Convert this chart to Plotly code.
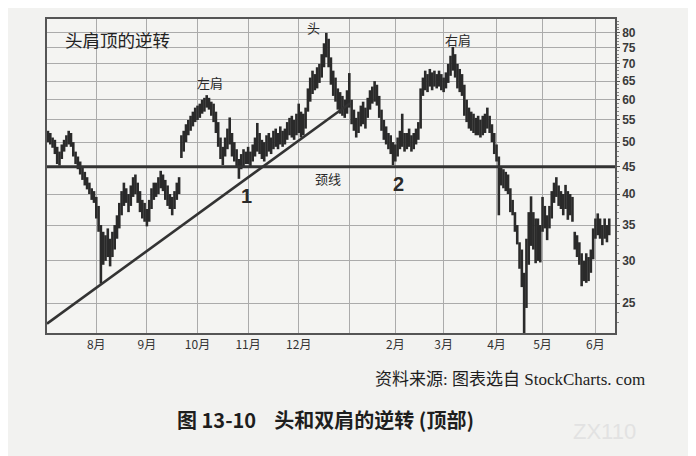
import plotly.graph_objects as go

# Daily bar ranges (high / low)
highs = [
    52.5, 52.0, 51.0, 50.5, 49.0, 48.0, 49.5, 50.5, 51.5, 52.5, 52.0,
    50.0, 48.0, 47.0, 46.0, 45.0, 44.0, 43.0, 42.0, 41.0, 40.5, 39.5, 38.0,
    35.0, 34.0, 33.5, 34.5, 33.0, 34.0, 35.0, 36.5, 38.5, 40.5, 42.0,
    41.0, 40.0, 41.5, 43.0, 43.5, 42.0, 40.5, 39.0, 38.5, 37.5, 39.0,
    41.0, 42.0, 42.0, 43.0, 44.2, 43.5, 42.5, 41.5, 40.0, 39.5, 40.5, 42.0, 43.0,
    51.5, 52.5, 54.0, 55.0, 56.0, 57.0, 58.0, 58.5, 59.0, 60.0, 60.5, 61.2,
    60.5, 59.5, 59.0, 57.0, 54.5, 51.0, 49.0, 51.0, 53.0, 55.6, 52.0, 50.0, 48.5,
    46.5, 47.5, 48.5, 48.0, 49.0, 48.0, 49.5, 51.0, 54.3, 52.0, 50.5, 50.0,
    51.5, 52.0, 51.0, 52.5, 53.0, 52.0, 53.5, 52.5, 53.0, 54.5, 55.5, 56.0, 55.0, 56.5,
    59.0, 57.0, 56.5, 58.0, 63.0, 66.0, 68.0, 67.0, 69.0, 70.0, 73.0, 76.5, 80.0, 78.0, 72.0, 68.0, 66.0, 63.0, 62.0,
    61.0, 60.0, 62.5, 67.3, 60.0, 57.5, 55.5, 57.0, 58.5, 59.5, 58.0, 60.5, 62.5, 63.5, 65.0, 64.0, 61.0, 57.5, 55.0, 53.5, 52.0, 51.5, 50.0,
    49.5, 51.0, 52.5, 56.5, 52.0, 52.0, 53.0, 51.5, 52.0, 53.0, 54.5,
    63.0, 66.0, 68.0, 67.0, 68.5, 67.5, 68.0, 67.0, 68.0, 67.0, 66.0, 67.5, 70.0, 72.5, 75.3,
    73.0, 70.0, 68.5, 67.0, 64.0, 60.0, 58.0, 57.0, 56.5, 55.5, 56.0, 55.0, 56.0, 56.5, 58.0, 56.0, 54.0, 52.0, 49.5,
    47.0, 45.0, 44.5, 44.0, 43.5, 41.0, 39.0, 37.0, 35.0, 32.5, 31.5, 28.5, 33.0, 37.0, 39.6, 37.0, 36.0, 36.0, 35.0,
    39.5, 38.0, 36.5, 38.0, 40.5, 42.0, 43.0, 41.5, 40.5, 40.0, 41.6, 40.5, 40.0, 39.5,
    34.0, 33.5, 32.5, 31.0, 30.0, 31.0, 30.5, 31.5, 34.5, 36.0, 36.8, 36.0, 35.0, 36.0, 35.0, 36.0,
]
lows = [
    50.0, 49.5, 48.8, 47.5, 45.5, 45.2, 46.5, 48.0, 49.0, 49.5, 49.0,
    47.0, 45.5, 44.5, 43.5, 42.5, 41.5, 40.8, 40.0, 39.0, 38.5, 36.0, 34.0,
    27.2, 29.5, 30.0, 30.5, 29.3, 30.5, 31.5, 33.0, 34.5, 36.5, 38.0,
    38.5, 37.0, 38.0, 39.5, 40.0, 38.5, 37.0, 36.0, 35.5, 34.8, 35.5,
    37.5, 39.0, 39.5, 40.0, 41.0, 40.5, 39.0, 38.0, 37.5, 36.5, 37.5, 39.0, 40.0,
    46.7, 48.0, 50.0, 51.5, 52.5, 53.5, 54.5, 55.0, 55.5, 56.5, 57.0, 58.0,
    57.5, 56.0, 54.5, 52.0, 49.0, 46.5, 45.3, 47.0, 48.5, 49.5, 47.0, 46.0, 45.0,
    42.7, 44.5, 45.0, 45.5, 45.5, 45.0, 46.0, 47.0, 48.0, 47.5, 46.5, 46.0,
    47.0, 48.0, 47.5, 48.5, 49.0, 48.5, 49.5, 49.0, 49.5, 50.5, 51.5, 51.0, 50.5, 51.5,
    52.0, 51.0, 51.5, 53.0, 57.0, 59.5, 61.5, 62.5, 63.0, 64.5, 66.0, 69.0, 72.0, 69.0, 64.0, 61.0, 59.5, 57.5, 56.5,
    56.0, 55.5, 56.5, 58.0, 54.0, 52.5, 51.0, 52.0, 53.5, 54.0, 53.0, 55.5, 57.5, 59.0, 59.5, 58.5, 55.5, 52.5, 50.5, 49.5, 48.5, 47.5, 45.3,
    46.0, 47.0, 48.5, 49.0, 48.0, 48.5, 49.0, 48.0, 48.5, 49.5, 50.5,
    53.0, 61.0, 62.5, 62.0, 63.5, 62.5, 63.5, 63.0, 63.5, 62.5, 62.0, 63.0, 64.5, 66.5, 68.0,
    66.0, 63.0, 62.0, 61.0, 56.0, 54.5, 53.0, 52.5, 52.0, 51.5, 51.5, 51.0, 51.5, 52.0, 53.0, 52.0, 50.0, 47.5, 46.0,
    36.5, 41.5, 41.0, 40.5, 40.0, 37.0, 36.5, 34.0, 32.2, 29.0, 26.8, 22.0, 24.5, 29.5, 32.0, 31.5, 29.7, 30.0, 29.8,
    34.0, 34.5, 32.8, 34.5, 36.0, 38.5, 39.5, 38.0, 37.5, 36.5, 37.5, 35.8, 36.5, 35.5,
    31.5, 30.5, 29.5, 26.9, 27.5, 27.3, 27.5, 28.5, 30.2, 33.0, 33.5, 33.0, 32.1, 33.0, 32.5, 33.5,
]
days = list(range(len(highs)))

month_days = [21, 43, 65, 87, 109, 131, 151, 172, 195, 215, 238]
month_labels = ["8月", "9月", "10月", "11月", "12月", "", "2月", "3月", "4月", "5月", "6月"]
price_ticks = [25, 30, 35, 40, 45, 50, 55, 60, 65, 70, 75, 80]
neckline_price = 45
trend_days = [-0.43, 131.3]
trend_prices = [22.9, 59.1]

x_range = [-0.43, 246.5]
y_range = [1.3424, 1.929]

# Build vertical segments for the bars
seg_x, seg_y = [], []
for d, h, l in zip(days, highs, lows):
    seg_x += [d, d, None]
    seg_y += [l, h, None]

fig = go.Figure()
fig.add_trace(go.Scatter(x=seg_x, y=seg_y, mode="lines",
                         line=dict(color="#2a2a2a", width=2.6),
                         hoverinfo="skip", showlegend=False))
fig.add_trace(go.Scatter(x=x_range, y=[neckline_price, neckline_price], mode="lines",
                         line=dict(color="#333333", width=3),
                         hoverinfo="skip", showlegend=False))
fig.add_trace(go.Scatter(x=trend_days, y=trend_prices, mode="lines",
                         line=dict(color="#333333", width=2.6),
                         hoverinfo="skip", showlegend=False))

grid = "#ababab"
fig.update_layout(
    width=696, height=456,
    margin=dict(l=39, r=89, t=9, b=131),
    paper_bgcolor="#f2f2f0",
    plot_bgcolor="#f4f4f2",
    showlegend=False,
    xaxis=dict(range=x_range, tickmode="array", tickvals=month_days, ticktext=month_labels,
               showgrid=True, gridcolor=grid, gridwidth=1.3, zeroline=False,
               showline=True, linecolor="#555555", linewidth=1.5, mirror=True,
               ticks="", tickfont=dict(family="Noto Sans CJK SC", size=12, color="#333333")),
    yaxis=dict(type="log", range=y_range, side="right", tickmode="array", tickvals=price_ticks,
               showgrid=True, gridcolor=grid, gridwidth=1.3, zeroline=False,
               showline=True, linecolor="#555555", linewidth=1.5, mirror=True,
               ticks="outside", ticklen=3, tickcolor="#555555",
               minor=dict(tickvals=list(range(23, 85)), ticks="outside", ticklen=2,
                          tickcolor="#888888", showgrid=False),
               tickfont=dict(family="Liberation Sans", size=12, color="#3a3a3a", weight="bold")),
)

cjk = "Noto Sans CJK SC"
def ann(text, x, y, size, xanchor="center", bold=False, color="#2a2a2a", family=cjk):
    fig.add_annotation(text=text, x=x, y=y, xref="paper", yref="paper",
                       xanchor=xanchor, yanchor="middle", showarrow=False,
                       font=dict(family=family, size=size, color=color,
                                 weight="bold" if bold else "normal"))

ann("头肩顶的逆转", 0.028, 0.9335, 17.5, xanchor="left", color="#222222")
ann("左肩", 0.287, 0.797, 13)
ann("头", 0.470, 0.9715, 13)
ann("右肩", 0.7236, 0.9335, 13)
ann("颈线", 0.4947, 0.4905, 13)
ann("1", 0.352, 0.4367, 20, bold=True, family="Liberation Sans")
ann("2", 0.618, 0.4747, 20, bold=True, family="Liberation Sans")
ann("资料来源: 图表选自 StockCharts. com", 1.0563, -0.1487, 17, xanchor="right",
    family="Liberation Serif, Noto Sans CJK SC", color="#1e1e1e")
ann("图 13-10\u00a0\u00a0\u00a0 头和双肩的逆转 (顶部)", 0.2254, -0.2753, 20, xanchor="left",
    bold=True, color="#1e1e1e")
ann("ZX110", 0.982, -0.313, 22, color="#e2e2e2", family="Liberation Sans")

fig.write_html("out.html")
